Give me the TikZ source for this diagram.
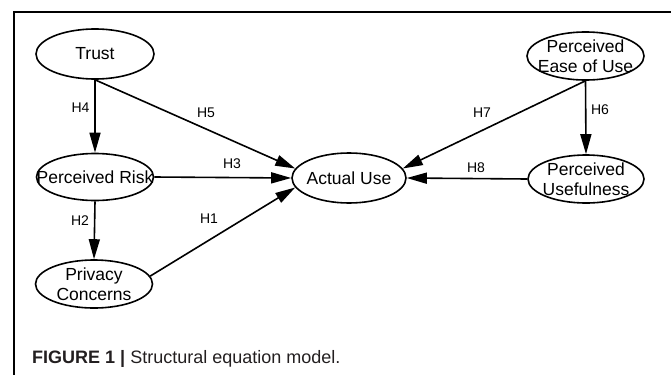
\documentclass[tikz,border=0pt]{standalone}
\usepackage{fontspec}
\setmainfont{Liberation Sans}
\usetikzlibrary{arrows.meta,shapes.geometric}
\definecolor{captext}{HTML}{231F20}
\begin{document}
\begin{tikzpicture}[x=1pt,y=-1pt,
  ell/.style={draw, ellipse, line width=1.6pt, inner sep=0pt},
  lbl/.style={font=\fontsize{17.5}{19.5}\selectfont, align=center, inner sep=0pt},
  hyp/.style={font=\fontsize{14}{15}\selectfont, inner sep=0pt},
  arr/.style={line width=1.6pt, -{Triangle[length=20pt,width=11pt]}}]
\useasboundingbox (0,0) rectangle (671,375);
% frame
\draw[line width=1.1pt] (671,12) -- (14,12) -- (14,375);
% ellipses
\node[ell, minimum width=118pt, minimum height=50pt] (trust) at (95,54) {};
\node[ell, minimum width=117pt, minimum height=47pt] (pr) at (95,177) {};
\node[ell, minimum width=117pt, minimum height=48pt] (pc) at (94,284) {};
\node[ell, minimum width=114pt, minimum height=50pt] (au) at (349,178) {};
\node[ell, minimum width=117pt, minimum height=48pt] (peou) at (585.5,56) {};
\node[ell, minimum width=116pt, minimum height=48pt] (pu) at (586,179) {};
% texts
\node[lbl] (ttrust) at (trust) {Trust};
\node[lbl] (tpr) at (pr) {Perceived Risk};
\node[lbl] (tpc) at (pc) {Privacy\\Concerns};
\node[lbl] (tau) at (au) {Actual Use};
\node[lbl] (tpeou) at (peou) {Perceived\\Ease of Use};
\node[lbl] (tpu) at (pu) {Perceived\\Usefulness};
% connectors
\draw[arr] (trust.south) -- (pr.north);
\draw[arr] (trust.south) -- (au.170);
\draw[arr] (pr.east) -- (au.west);
\draw[arr] (pr.south) -- (pc.north);
\draw[arr] (pc.8) -- (au.190);
\draw[arr] (peou.south) -- (au.10);
\draw[arr] (peou.south) -- (pu.north);
\draw[arr] (pu.west) -- (au.east);
% hypothesis labels
\node[hyp] (h4) at (80.5,108) {H4};
\node[hyp] (h5) at (206,113) {H5};
\node[hyp] (h3) at (232,164) {H3};
\node[hyp] (h2) at (80,221) {H2};
\node[hyp] (h1) at (209,219) {H1};
\node[hyp] (h7) at (482,113) {H7};
\node[hyp] (h6) at (600,110) {H6};
\node[hyp] (h8) at (476,168) {H8};
% caption
\node[anchor=base west, inner sep=0pt, text=captext, font=\fontsize{18}{20}\selectfont] (cap) at (32,363) {\textbf{FIGURE 1 |} Structural equation model.};
\end{tikzpicture}
\end{document}
